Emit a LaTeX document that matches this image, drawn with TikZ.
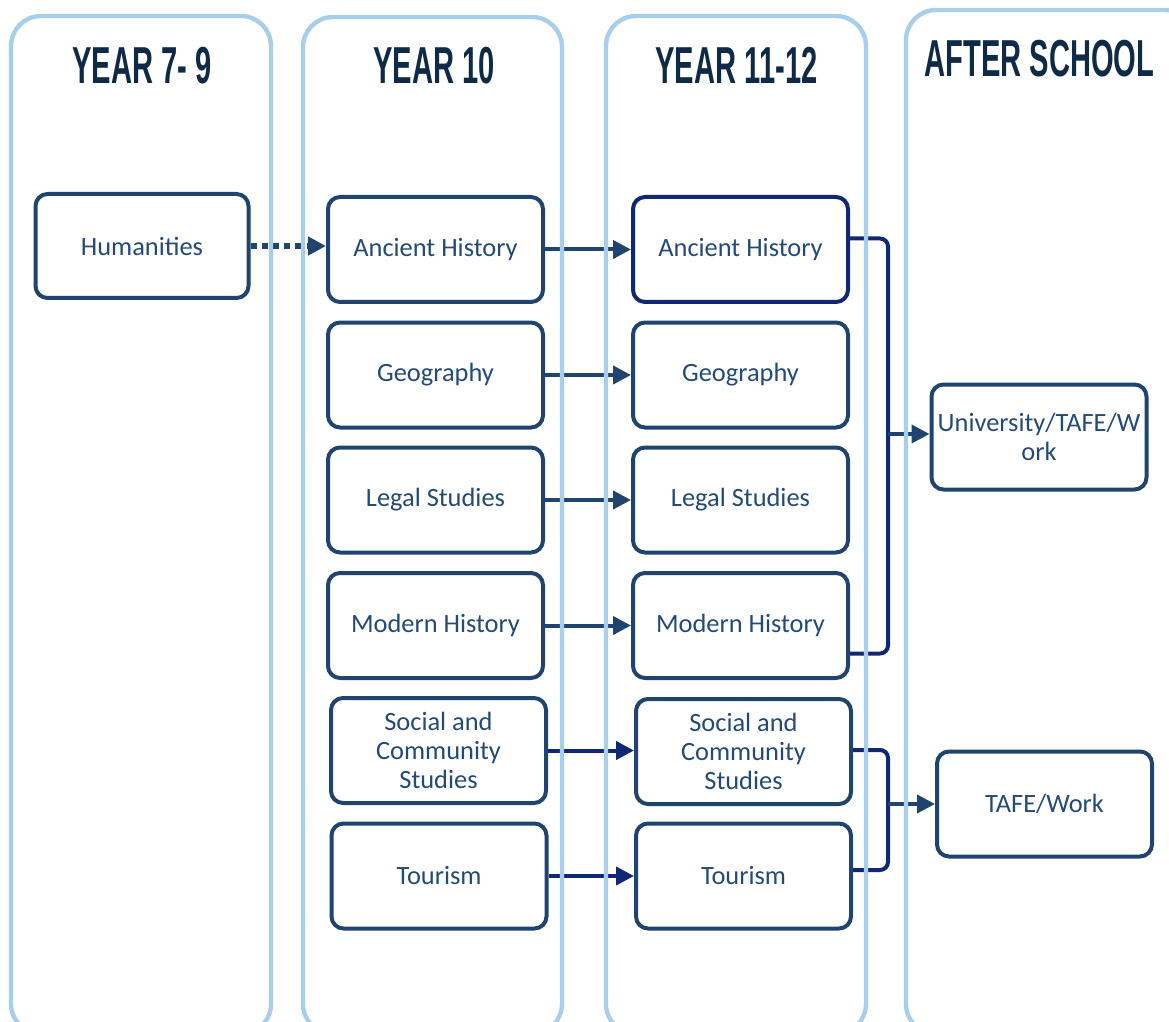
\documentclass[tikz,border=0pt]{standalone}
\usepackage{fontspec}
\setmainfont{Carlito}
\newfontfamily\headfont[FakeStretch=0.56]{Liberation Sans}
\usetikzlibrary{arrows.meta,calc}

\definecolor{laneblue}{HTML}{A7CFEB}
\definecolor{boxblue}{HTML}{1F4470}
\definecolor{royal}{HTML}{0F2774}
\definecolor{headcol}{HTML}{0E2A47}
\definecolor{txtblue}{HTML}{234A7A}

\begin{document}
\begin{tikzpicture}[x=0.5pt,y=-0.5pt,
  lane/.style={draw=laneblue, line width=2.2pt, rounded corners=15pt},
  heading/.style={anchor=base, text=headcol, font=\headfont\bfseries\fontsize{26}{28}\selectfont, inner sep=0pt},
  subj/.style={draw=boxblue, line width=2pt, rounded corners=6pt, fill=white,
    minimum width=107.5pt, minimum height=52.5pt, align=center, text=txtblue,
    font=\fontsize{13.2}{14.6}\selectfont, inner sep=1pt},
  link/.style={draw=boxblue, line width=2pt, -{Triangle[length=9pt,width=9pt]}},
  darklink/.style={link, draw=royal},
  brk/.style={draw=royal, line width=2pt, rounded corners=4pt}
]
\useasboundingbox (0,0) rectangle (1169,1022);
\clip (0,0) rectangle (1169,1022);

% column headings
\node[heading] (h1) at (142,84) {YEAR 7- 9};
\node[heading] (h2) at (434,84) {YEAR 10};
\node[heading] (h3) at (736.5,84) {YEAR 11-12};
\node[heading] (h4) at (1039.5,77) {AFTER SCHOOL};

% Year 7-9
\node[subj, minimum width=106.5pt, minimum height=52pt] (hum) at (142,246) {Humanities};

% Year 10
\node[subj] (ah10) at (435.5,249.5) {Ancient History};
\node[subj] (ge10) at (435.5,375) {Geography};
\node[subj] (ls10) at (435.5,500) {Legal Studies};
\node[subj] (mh10) at (435.5,625.5) {Modern History};
\node[subj] (sc10) at (438.5,750.5) {Social and\\Community\\Studies};
\node[subj] (to10) at (439,876) {Tourism};

% Year 11-12
\node[subj, draw=royal] (ah11) at (740.5,249.5) {Ancient History};
\node[subj] (ge11) at (740.5,375) {Geography};
\node[subj] (ls11) at (740.5,500) {Legal Studies};
\node[subj] (mh11) at (740.5,625.5) {Modern History};
\node[subj] (sc11) at (743.5,751.5) {Social and\\Community\\Studies};
\node[subj] (to11) at (743.5,876) {Tourism};

% After school
\node[subj] (uni) at (1039,437) {University/TAFE/W\\ork};
\node[subj] (tafe) at (1044.5,804) {TAFE/Work};

% Year 7-9 to Year 10
\draw[link, line width=2.6pt, dash pattern=on 3pt off 2.6pt] (hum.east) -- (hum.east -| ah10.west);

% Year 10 to Year 11-12
\draw[link] (ah10.east) -- (ah10.east -| ah11.west);
\draw[link] (ge10.east) -- (ge10.east -| ge11.west);
\draw[link] (ls10.east) -- (ls10.east -| ls11.west);
\draw[link] (mh10.east) -- (mh10.east -| mh11.west);
\draw[darklink] (sc10.east) -- (sc10.east -| sc11.west);
\draw[darklink] (to10.east) -- (to10.east -| to11.west);

% brackets into the after-school pathways
\coordinate (j1) at (888,434);
\coordinate (j2) at (888,804);
\draw[brk] ($(ah11.east)+(0,-11)$) -| (j1) |- ($(mh11.east)+(0,28)$);
\draw[brk] ($(sc11.east)+(0,-1.5)$) -| (j2) |- ($(to11.east)+(0,-6)$);
\draw[link] (j1) -- (j1 -| uni.west);
\draw[link] (j2) -- (tafe.west);

% year lanes
\draw[lane] (11,16) rectangle (271,1034);
\draw[lane] (303,17) rectangle (562,1034);
\draw[lane] (606,16) rectangle (866,1034);
\draw[lane] (906,10) rectangle (1195,1034);
\end{tikzpicture}
\end{document}
